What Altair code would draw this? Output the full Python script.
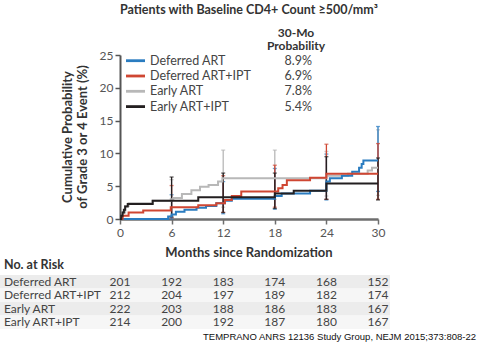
import altair as alt
import pandas as pd

# ---------------- data ----------------
groups = ["Deferred ART", "Deferred ART+IPT", "Early ART", "Early ART+IPT"]
colors = ["#2a7cc0", "#cf4632", "#b8b8b8", "#231f20"]
prob30 = ["8.9%", "6.9%", "7.8%", "5.4%"]

def_art_t = [0, 5.6, 6.0, 6.5, 7.5, 8.9, 10.0, 11.2, 12.2, 13.0, 18.0, 18.8, 22.1, 24.0, 24.4, 25.8, 27.0, 27.8, 28.1, 28.3, 30]
def_art_v = [0, 0.4, 0.7, 1.1, 1.4, 1.7, 2.0, 2.4, 2.8, 3.1, 3.5, 3.9, 4.3, 5.7, 6.2, 6.6, 7.2, 7.8, 8.4, 8.9, 8.9]

def_ipt_t = [0, 0.3, 1.0, 2.7, 5.9, 9.1, 11.2, 12.2, 13.0, 14.1, 18.4, 18.9, 19.4, 22.1, 24.0, 30]
def_ipt_v = [0, 0.5, 1.0, 1.3, 1.8, 2.1, 2.4, 2.9, 3.5, 4.2, 4.7, 5.2, 5.9, 6.3, 6.9, 6.9]

early_t = [0, 0.3, 0.6, 1.0, 3.8, 5.9, 6.2, 7.2, 8.3, 9.3, 10.3, 11.4, 11.9, 24.0, 26.5, 28.8, 29.3, 30]
early_v = [0, 1.0, 2.0, 2.4, 2.8, 3.0, 3.2, 3.8, 4.4, 4.9, 5.2, 5.7, 6.2, 6.6, 6.9, 7.4, 7.8, 7.8]

early_ipt_t = [0, 0.15, 0.3, 0.45, 0.6, 0.9, 3.8, 9.1, 18.0, 20.2, 24.0, 30]
early_ipt_v = [0, 0.5, 1.0, 1.4, 1.9, 2.3, 2.8, 3.3, 3.9, 4.3, 5.4, 5.4]

# confidence bars at 6, 12, 18, 24, 30 months
ci_months = [6, 12, 18, 24, 30]
def_art_lo = [0.0, 0.8, 1.5, 2.9, 4.2]
def_art_hi = [3.7, 5.7, 7.7, 9.9, 14.1]
def_ipt_lo = [0.2, 1.0, 1.8, 3.0, 3.0]
def_ipt_hi = [5.1, 6.6, 8.2, 11.4, 11.5]
early_lo = [0.5, 1.8, 3.0, 3.5, 3.6]
early_hi = [6.0, 10.5, 10.5, 10.3, 13.6]
early_ipt_lo = [0.3, 1.0, 1.6, 3.0, 2.9]
early_ipt_hi = [6.4, 7.0, 7.0, 9.5, 9.3]

risk_months = [0, 6, 12, 18, 24, 30]
risk_def_art = [201, 192, 183, 174, 168, 152]
risk_def_ipt = [212, 204, 197, 189, 182, 174]
risk_early = [222, 203, 188, 186, 183, 167]
risk_early_ipt = [214, 200, 192, 187, 180, 167]
y_ticks = [0, 5, 10, 15, 20, 25]

title_text = "Patients with Baseline CD4+ Count \u2265500/mm\u00b3"
x_title = "Months since Randomization"
y_title = ["Cumulative Probability", "of Grade 3 or 4 Event (%)"]
citation = "TEMPRANO ANRS 12136 Study Group, NEJM 2015;373:808-22"

# ---------------- tables ----------------
curves = [(def_art_t, def_art_v), (def_ipt_t, def_ipt_v), (early_t, early_v), (early_ipt_t, early_ipt_v)]
rows = []
for g, (ts, vs) in zip(groups, curves):
    for t, v in zip(ts, vs):
        rows.append({"group": g, "t": t, "v": v})
line_df = pd.DataFrame(rows)

cis = [(def_art_lo, def_art_hi), (def_ipt_lo, def_ipt_hi), (early_lo, early_hi), (early_ipt_lo, early_ipt_hi)]
ci_rows = []
for g, (lo, hi) in zip(groups, cis):
    for m, a, b in zip(ci_months, lo, hi):
        ci_rows.append({"group": g, "t": m, "lo": a, "hi": b})
ci_df = pd.DataFrame(ci_rows)

risks = [risk_def_art, risk_def_ipt, risk_early, risk_early_ipt]
FONT = "Lato"
W, H = 258, 164
ROW_Y0, ROW_DY = 226.8, 13.5

xs = alt.Scale(domain=[0, 30], nice=False)
ys = alt.Scale(domain=[0, 25], nice=False)
x_axis = alt.Axis(values=risk_months, title=None, tickSize=5, domainColor="#6e6e6e",
                  domainWidth=2.5, tickColor="#6e6e6e", tickWidth=1.5, labelColor="#555",
                  labelFont=FONT, labelFontSize=12, labelPadding=3, grid=False,
                  labelOverlap=False, labelFlush=False)
y_axis = alt.Axis(values=y_ticks, title=None, tickSize=5, domainColor="#555",
                  domainWidth=2, tickColor="#555", tickWidth=1.5, labelColor="#555",
                  labelFont=FONT, labelFontSize=12, labelPadding=2, grid=False,
                  labelOverlap=False, labelFlush=False)

def X(f):
    return alt.X(f, scale=xs, axis=x_axis)

def Y(f):
    return alt.Y(f, scale=ys, axis=y_axis)

layers = []

# table row bands
band_df = pd.DataFrame({"row": list(range(4))})
band_df["y1"] = ROW_Y0 - ROW_DY / 2 + band_df["row"] * ROW_DY
band_df["y2"] = band_df["y1"] + ROW_DY
band_df["shade"] = ["a", "b", "a", "b"]
bands = alt.Chart(band_df).mark_rect().encode(
    x=alt.value(-120), x2=alt.value(270),
    y=alt.Y("y1:Q", scale=None), y2="y2:Q",
    color=alt.Color("shade:N", scale=alt.Scale(domain=["a", "b"], range=["#ececec", "#f6f6f6"]), legend=None),
)
layers.append(bands)

order = ["Early ART", "Deferred ART", "Deferred ART+IPT", "Early ART+IPT"]

# error bars
for g in order:
    sub = ci_df[ci_df["group"] == g]
    c = colors[groups.index(g)]
    base = alt.Chart(sub)
    layers.append(base.mark_rule(color=c, strokeWidth=1.3).encode(
        x=X("t:Q"), y=Y("lo:Q"), y2="hi:Q"))
    layers.append(base.mark_tick(color=c, thickness=1.3, size=4, orient="horizontal").encode(
        x=X("t:Q"), y=Y("hi:Q")))
    layers.append(base.mark_tick(color=c, thickness=1.3, size=4, orient="horizontal").encode(
        x=X("t:Q"), y=Y("lo:Q")))

# step curves
for g in order:
    sub = line_df[line_df["group"] == g]
    c = colors[groups.index(g)]
    layers.append(alt.Chart(sub).mark_line(interpolate="step-after", color=c, strokeWidth=2).encode(
        x=X("t:Q"), y=Y("v:Q")))

# legend
leg_df = pd.DataFrame({"group": groups, "prob": prob30, "i": range(4)})
leg_df["yy"] = 5.7 + leg_df["i"] * 15.3
for i, g in enumerate(groups):
    yy = 5.7 + i * 15.3
    layers.append(alt.Chart(pd.DataFrame({"a": [0]})).mark_rule(color=colors[i], strokeWidth=2.8).encode(
        x=alt.value(6), x2=alt.value(25), y=alt.value(yy)))
layers.append(alt.Chart(leg_df).mark_text(align="left", baseline="middle", font=FONT, fontSize=12.5, color="#444").encode(
    x=alt.value(30), y=alt.Y("yy:Q", scale=None), text="group:N"))
layers.append(alt.Chart(leg_df).mark_text(align="right", baseline="middle", font=FONT, fontSize=12.5, color="#444").encode(
    x=alt.value(192), y=alt.Y("yy:Q", scale=None), text="prob:N"))

def label(txt, x, y, **kw):
    props = dict(font=FONT, color="#333", baseline="middle")
    props.update(kw)
    return alt.Chart(pd.DataFrame({"s": [txt]})).mark_text(**props).encode(
        x=alt.value(x), y=alt.value(y), text="s:N")

layers.append(label(title_text, 129, -45, fontSize=12.5, fontWeight="bold", align="center"))
layers.append(label("30-Mo", 176, -22.5, fontSize=12, fontWeight="bold", align="center"))
layers.append(label("Probability", 176, -9, fontSize=12, fontWeight="bold", align="center"))
layers.append(label(x_title, 129, 198, fontSize=13, fontWeight="bold", align="center"))
layers.append(label(y_title[0], -52, 82, fontSize=13, fontWeight="bold", align="center", angle=270))
layers.append(label(y_title[1], -37, 82, fontSize=13, fontWeight="bold", align="center", angle=270))
layers.append(label("No. at Risk", -116, 210, fontSize=12.5, fontWeight="bold", align="left"))
layers.append(label(citation, 356, 282, fontSize=9.5, font="Liberation Sans", color="#111", align="right"))

# risk table
rk_rows = []
for r, (g, vals) in enumerate(zip(groups, risks)):
    for m, n in zip(risk_months, vals):
        rk_rows.append({"group": g, "t": m, "n": n, "r": r})
rk_df = pd.DataFrame(rk_rows)
rk_df["yy"] = ROW_Y0 + rk_df["r"] * ROW_DY
lab_df = pd.DataFrame({"group": groups, "r": range(4)})
lab_df["yy"] = ROW_Y0 + lab_df["r"] * ROW_DY
layers.append(alt.Chart(lab_df).mark_text(align="left", baseline="middle", font=FONT, fontSize=12, color="#444").encode(
    x=alt.value(-116), y=alt.Y("yy:Q", scale=None), text="group:N"))
layers.append(alt.Chart(rk_df).mark_text(align="center", baseline="middle", font=FONT, fontSize=12, color="#444").encode(
    x=X("t:Q"), y=alt.Y("yy:Q", scale=None), text="n:Q"))

chart = alt.layer(*layers).properties(
    width=W, height=H,
    autosize=alt.AutoSizeParams(type="none"),
    padding={"left": 120, "top": 55, "right": 101, "bottom": 128},
    background="white",
).configure_view(stroke=None)

chart.save("out.html", embed_options={"renderer": "svg", "actions": False})
